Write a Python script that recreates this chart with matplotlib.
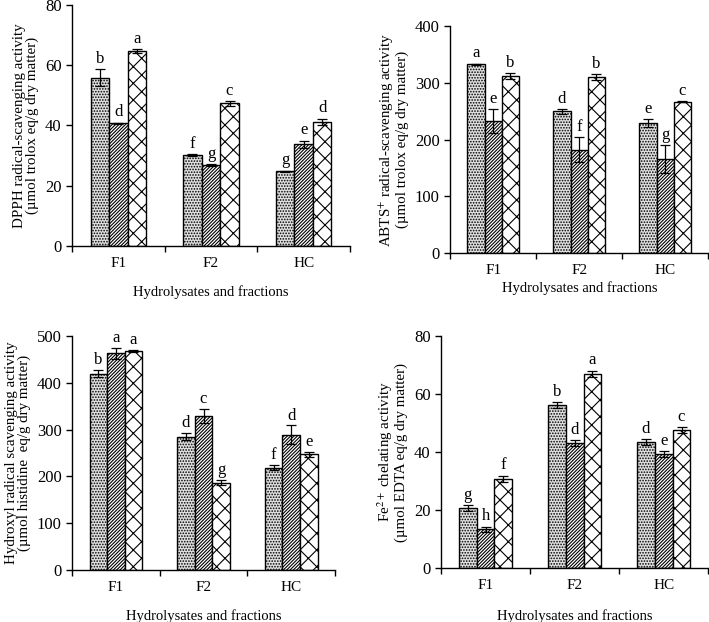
import numpy as np
import matplotlib
matplotlib.use("Agg")
import matplotlib.pyplot as plt

plt.rcParams['font.family'] = ['Liberation Serif', 'DejaVu Serif']
plt.rcParams['mathtext.fontset'] = 'stix'
plt.rcParams['hatch.linewidth'] = 0.8

groups = ['F1', 'F2', 'HC']

# DPPH
dpph = [[55.8, 30.2, 24.8], [40.7, 26.9, 33.7], [64.7, 47.3, 41.3]]
dpph_err = [[2.8, 0.3, 0.2], [0.2, 0.2, 1.2], [0.7, 0.8, 1.0]]
dpph_let = [['b', 'f', 'g'], ['d', 'g', 'e'], ['a', 'c', 'd']]

# ABTS
abts = [[333, 250, 229], [233, 182, 166], [312, 310, 267]]
abts_err = [[1, 4, 7], [21, 22, 24], [5, 5, 1]]
abts_let = [['a', 'd', 'e'], ['e', 'f', 'g'], ['b', 'b', 'c']]

# Hydroxyl
oh = [[420, 285, 219], [463, 330, 289], [468, 187, 247]]
oh_err = [[8, 8, 6], [12, 15, 20], [3, 5, 6]]
oh_let = [['b', 'd', 'f'], ['a', 'c', 'd'], ['a', 'g', 'e']]

# Fe2+
fe = [[20.7, 56.2, 43.4], [13.3, 43.0, 39.3], [30.8, 67.0, 47.6]]
fe_err = [[1.0, 1.0, 1.0], [1.0, 1.0, 1.0], [1.0, 1.0, 1.0]]
fe_let = [['g', 'b', 'd'], ['h', 'd', 'e'], ['f', 'a', 'c']]

styles = [dict(color='#e0e0e0', hatch='......'),
          dict(color='white', hatch='//////////'),
          dict(color='white', hatch='xx')]


def panel(ax, vals, errs, lets, ymax, step, ylabel, lab_pad, off):
    x = np.arange(len(groups))
    w = 0.2
    for i in range(3):
        pos = x + (i - 1) * w
        ax.bar(pos, vals[i], w, facecolor=styles[i]['color'], hatch=styles[i]['hatch'],
               edgecolor='black', linewidth=1.0, zorder=2)
        ax.errorbar(pos, vals[i], yerr=errs[i], fmt='none', ecolor='black',
                    elinewidth=0.9, capsize=3.5, capthick=0.9, zorder=3)
        for p, v, e, l in zip(pos, vals[i], errs[i], lets[i]):
            ax.text(p, v + e + off, l, ha='center', va='bottom', fontsize=12)
    ax.set_xlim(-0.5, 2.5)
    ax.set_ylim(0, ymax)
    ax.set_yticks(np.arange(0, ymax + 1, step))
    ax.set_xticks(x)
    ax.set_xticklabels(groups)
    ax.set_xticks([-0.5, 0.5, 1.5, 2.5], minor=True)
    ax.tick_params(axis='x', which='major', length=0, pad=8, labelsize=11)
    ax.tick_params(axis='x', which='minor', length=4, width=1)
    ax.tick_params(axis='y', length=4, width=1, labelsize=12)
    for s in ['top', 'right']:
        ax.spines[s].set_visible(False)
    for s in ['left', 'bottom']:
        ax.spines[s].set_linewidth(1.0)
    ax.set_ylabel(ylabel, fontsize=10.8, linespacing=1.0)
    ax.set_xlabel('Hydrolysates and fractions', fontsize=10.5, labelpad=lab_pad)


fig = plt.figure(figsize=(7.09, 6.22), dpi=100)
ax1 = fig.add_axes([0.1016, 0.6045, 0.392, 0.3875])
ax2 = fig.add_axes([0.635, 0.593, 0.364, 0.365])
ax3 = fig.add_axes([0.1016, 0.0836, 0.371, 0.376])
ax4 = fig.add_axes([0.622, 0.0868, 0.377, 0.373])

panel(ax1, dpph, dpph_err, dpph_let, 80, 20,
      'DPPH radical-scavenging activity\n(µmol trolox eq/g dry matter)', 11, 0.8)
panel(ax2, abts, abts_err, abts_let, 400, 100,
      'ABTS$^{+}$ radical-scavenging activity\n(µmol trolox eq/g dry matter)', 3, 4)
panel(ax3, oh, oh_err, oh_let, 500, 100,
      'Hydroxyl radical scavenging activity\n(µmol histidine  eq/g dry matter)', 11, 4)
panel(ax4, fe, fe_err, fe_let, 80, 20,
      'Fe$^{2+}$ chelating activity\n(µmol EDTA eq/g dry matter)', 12, 0.8)

fig.savefig('out.png', dpi=100)
